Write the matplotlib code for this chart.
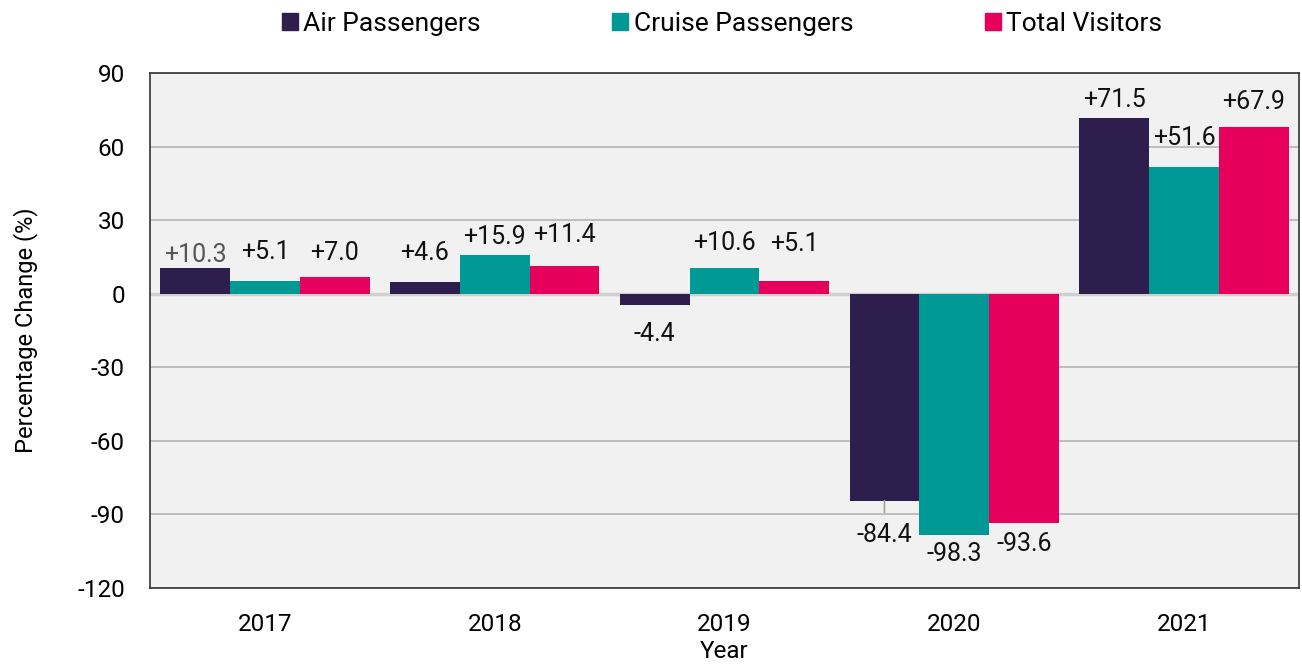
import numpy as np
import matplotlib
matplotlib.use('Agg')
import matplotlib.pyplot as plt
from matplotlib.patches import Patch

plt.rcParams['font.family'] = ['Roboto', 'DejaVu Sans']
plt.rcParams['axes.unicode_minus'] = False

years = ['2017', '2018', '2019', '2020', '2021']
air = [10.3, 4.6, -4.4, -84.4, 71.5]
cruise = [5.1, 15.9, 10.6, -98.3, 51.6]
total = [7.0, 11.4, 5.1, -93.6, 67.9]

series = [('Air Passengers', air, '#2e1e4e'),
          ('Cruise Passengers', cruise, '#009996'),
          ('Total Visitors', total, '#e6005c')]

# 标签的额外纵向偏移 (点)，key = (系列序号, 年份序号)
label_shift = {(0, 0): -3, (1, 0): 8, (2, 0): 4, (0, 1): 8, (2, 1): 9,
               (1, 2): 5, (2, 2): 14, (1, 4): 8, (2, 4): 5,
               (0, 2): -7, (0, 3): -11, (2, 3): -1}

fig = plt.figure(figsize=(13.02, 6.64), dpi=100)
ax = fig.add_axes([0.1152, 0.1145, 0.8825, 0.7755])
ax.set_facecolor('#f1f1f1')

x = np.arange(len(years))
w = 0.304
for i, (name, vals, color) in enumerate(series):
    pos = x + (i - 1) * w
    ax.bar(pos, vals, width=w, color=color, zorder=3)
    for j, v in enumerate(vals):
        dy = label_shift.get((i, j), 0)
        txt = '%+.1f' % v
        off = (0, 13 + dy) if v >= 0 else (0, -14 + dy)
        tcolor = '#555555' if (i, j) == (0, 0) else '#111111'
        arrow = None
        if (i, j) == (0, 3):
            arrow = dict(arrowstyle='-', color='#a0a0a0', lw=1.2, shrinkA=6, shrinkB=0)
        ax.annotate(txt, xy=(pos[j], v), xytext=off, textcoords='offset points',
                    ha='center', va='center', fontsize=18, color=tcolor, zorder=4,
                    arrowprops=arrow)

ax.set_xlim(-0.5, len(years) - 0.5)
ax.set_ylim(-120, 90)
ax.set_yticks(np.arange(-120, 91, 30))
ax.set_xticks(x)
ax.set_xticklabels(years)
ax.tick_params(axis='both', length=0, labelsize=17.5)
ax.tick_params(axis='x', pad=18)
ax.tick_params(axis='y', pad=18)
ax.yaxis.grid(True, color='#b4b4b4', lw=1.2, zorder=0)
ax.axhline(0, color='#d0d0d0', lw=2.5, zorder=2)
for s in ax.spines.values():
    s.set_color('#333333')
    s.set_linewidth(1.2)

ax.set_xlabel('Year', fontsize=17.5, labelpad=3)
ax.set_ylabel('Percentage Change (%)', fontsize=17, labelpad=28)

handles = [Patch(color=c, label=n) for n, _, c in series]
fig.legend(handles=handles, loc='upper center', bbox_to_anchor=(0.5545, 1.018), ncol=3,
           frameon=False, fontsize=19, handlelength=0.6, handleheight=0.6,
           handletextpad=0.2, columnspacing=5.0)

fig.savefig('out.png', dpi=100)
